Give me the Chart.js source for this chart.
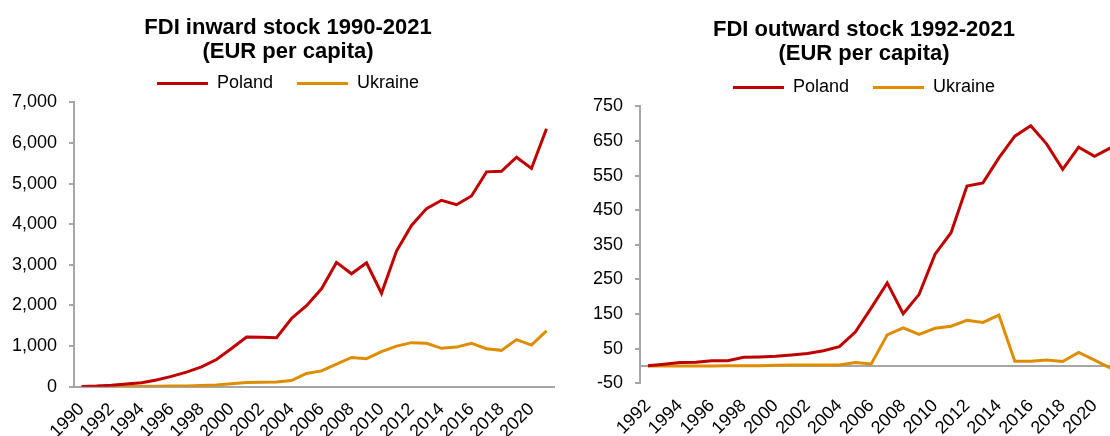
<!DOCTYPE html>
<html>
<head>
<meta charset="utf-8">
<script src="https://cdn.jsdelivr.net/npm/chart.js@4.4.1/dist/chart.umd.min.js"></script>
<style>
  html, body { margin: 0; padding: 0; background: #fff; }
  body { width: 1110px; height: 436px; overflow: hidden; position: relative; }
  #boxInward { position: absolute; left: 0; top: 0; width: 576px; height: 436px; }
  #boxOutward { position: absolute; left: 590px; top: 0; width: 548px; height: 436px; }
</style>
</head>
<body>
<div id="boxInward"><canvas id="chartInward"></canvas></div>
<div id="boxOutward"><canvas id="chartOutward"></canvas></div>
<script>
  var inwardYears = ['1990', '1991', '1992', '1993', '1994', '1995', '1996', '1997', '1998', '1999', '2000', '2001', '2002', '2003', '2004', '2005', '2006', '2007', '2008', '2009', '2010', '2011', '2012', '2013', '2014', '2015', '2016', '2017', '2018', '2019', '2020', '2021'];
  var inwardPoland = [5, 15, 35, 65, 95, 165, 255, 360, 490, 670, 940, 1225, 1220, 1205, 1680, 1995, 2410, 3060, 2780, 3050, 2300, 3340, 3970, 4385, 4590, 4480, 4695, 5290, 5305, 5650, 5375, 6350];
  var inwardUkraine = [null, null, 3, 5, 8, 10, 15, 20, 30, 40, 70, 105, 110, 115, 150, 325, 390, 555, 720, 690, 865, 1000, 1085, 1070, 945, 975, 1070, 935, 895, 1160, 1025, 1375];

  var outwardYears = ['1992', '1993', '1994', '1995', '1996', '1997', '1998', '1999', '2000', '2001', '2002', '2003', '2004', '2005', '2006', '2007', '2008', '2009', '2010', '2011', '2012', '2013', '2014', '2015', '2016', '2017', '2018', '2019', '2020', '2021'];
  var outwardPoland = [1, 5, 10, 11, 15, 15, 25, 26, 28, 32, 36, 44, 56, 98, 168, 240, 151, 207, 323, 385, 520, 529, 601, 664, 694, 641, 568, 632, 606, 630];
  var outwardUkraine = [0, 0, 0, 0, 0, 1, 1, 1, 2, 3, 3, 3, 3, 10, 6, 90, 110, 91, 109, 115, 132, 126, 147, 14, 14, 17, 13, 39, 17, -6];

  var colorPoland = '#C00000';
  var colorUkraine = '#DE8C00';
  var axisGray = '#A6A6A6';
  var fontFamily = "'Liberation Sans', Arial, sans-serif";

  Chart.defaults.font.family = fontFamily;
  Chart.defaults.color = '#000';

  // zero line for the outward chart (its x axis sits at the bottom)
  var zeroLine = {
    id: 'zeroLine',
    beforeDatasetsDraw: function (chart) {
      var y = chart.scales.y.getPixelForValue(0);
      var area = chart.chartArea;
      var ctx = chart.ctx;
      ctx.save();
      ctx.strokeStyle = axisGray;
      ctx.lineWidth = 2;
      ctx.beginPath();
      ctx.moveTo(area.left, y);
      ctx.lineTo(area.right, y);
      ctx.stroke();
      ctx.restore();
    }
  };

  function everyOther(value, index) {
    return index % 2 === 0 ? this.getLabelForValue(value) : '';
  }

  function makeOptions(title, titlePad, yMin, yMax, yStep, yWidth, xHeight, rightGap, xBorder) {
    return {
      responsive: true,
      maintainAspectRatio: false,
      animation: false,
      layout: { padding: 0 },
      elements: {
        point: { radius: 0 },
        line: { tension: 0, borderWidth: 3 }
      },
      scales: {
        x: {
          offset: true,
          grid: { display: false, drawTicks: false },
          border: { display: xBorder, color: axisGray, width: 2 },
          ticks: {
            autoSkip: false,
            minRotation: 45,
            maxRotation: 45,
            padding: 12,
            font: { size: 18 },
            callback: everyOther
          },
          afterFit: function (s) { s.height = xHeight; }
        },
        y: {
          min: yMin,
          max: yMax,
          grid: { drawOnChartArea: false, color: axisGray, lineWidth: 2, tickLength: 5 },
          border: { display: true, color: axisGray, width: 2 },
          ticks: {
            stepSize: yStep,
            padding: 12,
            font: { size: 18 },
            callback: function (v) { return v.toLocaleString('en-US'); }
          },
          afterFit: function (s) { s.width = yWidth; }
        },
        // empty right-hand box, only keeps the plot clear of the right edge
        gap: {
          position: 'right',
          grid: { display: false },
          border: { display: false },
          ticks: { display: false },
          afterFit: function (s) { s.width = rightGap; }
        }
      },
      plugins: {
        title: {
          display: true,
          text: title,
          color: '#000',
          font: { size: 22, weight: 'bold', lineHeight: 1.1 },
          padding: titlePad
        },
        legend: {
          display: true,
          position: 'top',
          labels: {
            boxWidth: 51,
            boxHeight: 0,
            padding: 24,
            color: '#000',
            font: { size: 18 }
          }
        },
        tooltip: { enabled: false }
      }
    };
  }

  new Chart(document.getElementById('chartInward'), {
    type: 'line',
    data: {
      labels: inwardYears,
      datasets: [
        { label: 'Poland', data: inwardPoland, borderColor: colorPoland, backgroundColor: colorPoland },
        { label: 'Ukraine', data: inwardUkraine, borderColor: colorUkraine, backgroundColor: colorUkraine }
      ]
    },
    options: makeOptions(['FDI inward stock 1990-2021', '(EUR per capita)'], { top: 16, bottom: -14 },
      0, 7000, 1000, 74, 49.3, 22, true)
  });

  new Chart(document.getElementById('chartOutward'), {
    type: 'line',
    data: {
      labels: outwardYears,
      datasets: [
        { label: 'Poland', data: outwardPoland, borderColor: colorPoland, backgroundColor: colorPoland },
        { label: 'Ukraine', data: outwardUkraine, borderColor: colorUkraine, backgroundColor: colorUkraine }
      ]
    },
    options: makeOptions(['FDI outward stock 1992-2021', '(EUR per capita)'], { top: 18, bottom: -12 },
      -50, 750, 100, 50, 52.7, 12, false),
    plugins: [zeroLine]
  });
</script>
</body>
</html>
